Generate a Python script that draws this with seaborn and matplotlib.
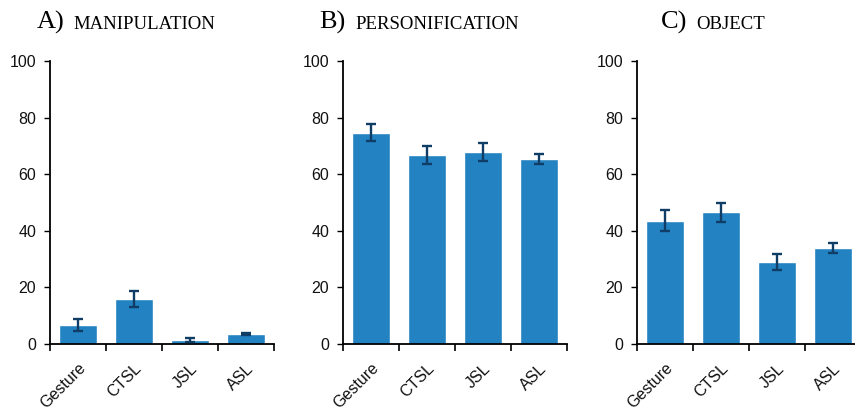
import matplotlib
matplotlib.use("Agg")
import matplotlib.pyplot as plt
import seaborn as sns
import pandas as pd
from matplotlib.offsetbox import TextArea, HPacker, AnchoredOffsetbox

# Mean percentage of responses per language group, with standard errors
groups = ["Gesture", "CTSL", "JSL", "ASL"]

manipulation = [6.7, 15.9, 1.4, 3.5]
manipulation_err = [2.1, 3.0, 0.6, 0.3]

personification = [74.6, 66.8, 67.8, 65.4]
personification_err = [3.0, 3.2, 3.1, 1.7]

object_vals = [43.6, 46.6, 29.0, 33.9]
object_err = [3.8, 3.4, 2.9, 1.8]

panel_letters = ["A)", "B)", "C)"]
panel_names = ["MANIPULATION", "PERSONIFICATION", "OBJECT"]
y_ticks = [0, 20, 40, 60, 80, 100]

sns.set_style("ticks")
plt.rcParams["font.family"] = ["Liberation Sans", "DejaVu Sans"]

BAR = "#2382c2"
ERR = "#0f3d66"
W, H = 855, 408

fig = plt.figure(figsize=(W / 100, H / 100), dpi=100)

panels = [
    (manipulation, manipulation_err, 50),
    (personification, personification_err, 343),
    (object_vals, object_err, 637),
]
ax_w, ax_bottom, ax_h = 224, 64, 283

for i, (vals, errs, left) in enumerate(panels):
    ax = fig.add_axes([left / W, ax_bottom / H, ax_w / W, ax_h / H])
    df = pd.DataFrame({"group": groups, "value": vals})
    sns.barplot(data=df, x="group", y="value", color=BAR, saturation=1,
                width=0.68, errorbar=None, ax=ax, zorder=2)
    ax.errorbar(range(len(groups)), vals, yerr=errs, fmt="none",
                ecolor=ERR, elinewidth=1.7, capsize=3.8, capthick=1.7, zorder=3)

    ax.set_xlim(-0.5, len(groups) - 0.5)
    ax.set_ylim(0, 100)
    ax.set_yticks(y_ticks)
    ax.tick_params(axis="y", labelsize=11.5, length=4, width=1, color="black",
                   pad=6, labelcolor="#111111")

    # tick marks sit between categories, labels at the category centres
    ax.set_xticks([k - 0.5 for k in range(len(groups) + 1)])
    ax.set_xticklabels([])
    ax.set_xticks(range(len(groups)), minor=True)
    ax.set_xticklabels(groups, minor=True, rotation=45, ha="right",
                       rotation_mode="anchor", fontsize=11.5, color="#111111")
    ax.tick_params(axis="x", which="major", length=5, width=1.2, color="black")
    ax.tick_params(axis="x", which="minor", length=0, pad=12)

    ax.set_xlabel("")
    ax.set_ylabel("")
    for side in ("top", "right"):
        ax.spines[side].set_visible(False)
    for side in ("left", "bottom"):
        ax.spines[side].set_color("black")
        ax.spines[side].set_linewidth(1.3)

    # panel heading: letter plus caps label in a serif face
    letter = TextArea(panel_letters[i],
                      textprops=dict(family="Liberation Serif", size=19, color="black"))
    name = TextArea(panel_names[i],
                    textprops=dict(family="Liberation Serif", size=13.5, color="black"))
    box = HPacker(children=[letter, name], align="baseline", pad=0, sep=7)
    cx = (left + ax_w / 2 - 36) / W
    anchored = AnchoredOffsetbox(loc="lower center", child=box, pad=0,
                                 borderpad=0, frameon=False,
                                 bbox_to_anchor=(cx, (H - 34) / H),
                                 bbox_transform=fig.transFigure)
    fig.add_artist(anchored)

fig.savefig("out.png", dpi=100)
